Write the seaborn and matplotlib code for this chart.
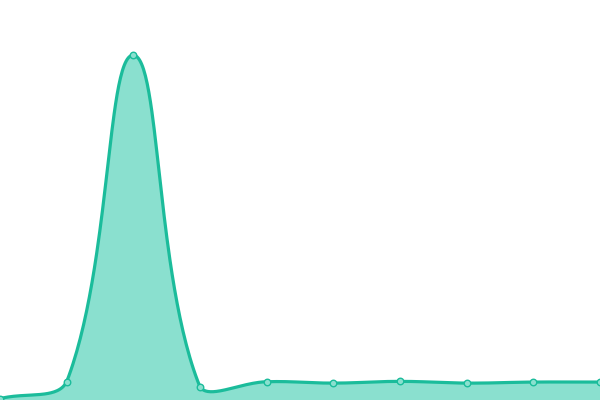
import numpy as np
import pandas as pd
import matplotlib
matplotlib.use("Agg")
import matplotlib.pyplot as plt
import seaborn as sns

x_vals = [0, 1, 2, 3, 4, 5, 6, 7, 8, 9]
y_vals = [0.4, 5.3, 100.0, 3.8, 5.3, 4.9, 5.4, 4.9, 5.2, 5.2]

line_color = "#1bbc9b"
fill_color = "#8ae0cf"

X_MAX, Y_MAX = 9, 116
W, H = 600, 400


def smooth_curve(xs, ys, tension=0.4, steps=60):
    # bezier smoothing in pixel space, weighted by neighbour distance
    px = np.asarray(xs, float) * W / X_MAX
    py = np.asarray(ys, float) * H / Y_MAX
    n = len(px)
    c_prev, c_next = [], []
    for i in range(n):
        p = np.array([px[i], py[i]])
        a = np.array([px[max(i - 1, 0)], py[max(i - 1, 0)]])
        b = np.array([px[min(i + 1, n - 1)], py[min(i + 1, n - 1)]])
        d01 = np.hypot(*(p - a))
        d12 = np.hypot(*(b - p))
        tot = d01 + d12
        s01 = d01 / tot if tot else 0
        s12 = d12 / tot if tot else 0
        cp = p - tension * s01 * (b - a)
        cn = p + tension * s12 * (b - a)
        cp = np.clip(cp, [0, 0], [W, H])
        cn = np.clip(cn, [0, 0], [W, H])
        c_prev.append(cp)
        c_next.append(cn)
    out = []
    t = np.linspace(0, 1, steps, endpoint=False)[:, None]
    for i in range(n - 1):
        p0 = np.array([px[i], py[i]])
        p3 = np.array([px[i + 1], py[i + 1]])
        p1, p2 = c_next[i], c_prev[i + 1]
        seg = ((1 - t) ** 3) * p0 + 3 * ((1 - t) ** 2) * t * p1 \
            + 3 * (1 - t) * t ** 2 * p2 + t ** 3 * p3
        out.append(seg)
    out.append(np.array([[px[-1], py[-1]]]))
    out = np.vstack(out)
    return out[:, 0] * X_MAX / W, out[:, 1] * Y_MAX / H


sx, sy = smooth_curve(x_vals, y_vals)
curve = pd.DataFrame({"x": sx, "y": sy})
points = pd.DataFrame({"x": x_vals, "y": y_vals})

fig = plt.figure(figsize=(6, 4), dpi=100)
ax = fig.add_axes([0, 0, 1, 1])

ax.fill_between(curve["x"], curve["y"], 0, color=fill_color, linewidth=0)
sns.lineplot(data=curve, x="x", y="y", ax=ax, color=line_color, linewidth=2.3,
             sort=False, estimator=None)
sns.scatterplot(data=points, x="x", y="y", ax=ax, s=22, color=fill_color,
                edgecolor=line_color, linewidth=1.0, zorder=5, clip_on=False)

ax.set_xlim(0, X_MAX)
ax.set_ylim(0, Y_MAX)
ax.axis("off")

fig.savefig("out.png", dpi=100)
